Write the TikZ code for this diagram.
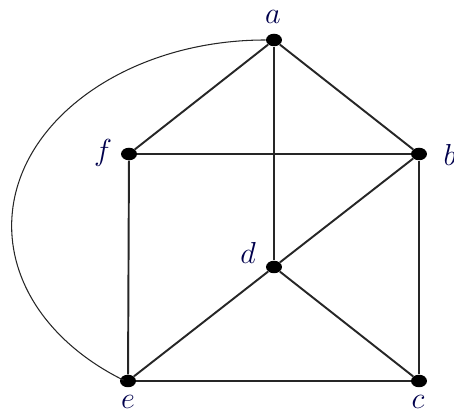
\documentclass[tikz,border=0pt]{standalone}
\usetikzlibrary{shapes.geometric}
\begin{document}
\begin{tikzpicture}
    \tikzset{
        vertex/.style={ellipse, fill=black, inner sep=0pt, minimum width=0.32cm, minimum height=0.25cm},
        edge/.style={line width=1.1pt, draw=black!85},
        vlabel/.style={font=\fontsize{17}{17}\selectfont, text=blue!30!black}
    }
    \useasboundingbox (0, 0) rectangle (9.08, 8.32);

    % Vertices
    \node[vertex] (a) at (5.48, 7.52) {};
    \node[vertex] (f) at (2.58, 5.24) {};
    \node[vertex] (b) at (8.38, 5.24) {};
    \node[vertex] (d) at (5.48, 2.98) {};
    \node[vertex] (e) at (2.56, 0.70) {};
    \node[vertex] (c) at (8.38, 0.70) {};

    % Vertex labels
    \node[vlabel] (la) at (5.46, 7.98) {$a$};
    \node[vlabel] (lf) at (2.06, 5.26) {$f$};
    \node[vlabel] (lb) at (9.00, 5.22) {$b$};
    \node[vlabel] (ld) at (4.96, 3.26) {$d$};
    \node[vlabel] (le) at (2.56, 0.28) {$e$};
    \node[vlabel] (lc) at (8.36, 0.28) {$c$};

    % Edges
    \draw[edge] (a) -- (f);
    \draw[edge] (a) -- (b);
    \draw[edge] (a) -- (d);
    \draw[edge] (f) -- (b);
    \draw[edge] (f) -- (e);
    \draw[edge] (b) -- (c);
    \draw[edge] (b) -- (d);
    \draw[edge] (d) -- (e);
    \draw[edge] (d) -- (c);
    \draw[edge] (e) -- (c);

    % Outer curved edge from a round to e
    \draw[line width=0.6pt, draw=black!85] (a.west) arc[start angle=90, end angle=236, x radius=5.08cm, y radius=3.72cm];
\end{tikzpicture}
\end{document}
